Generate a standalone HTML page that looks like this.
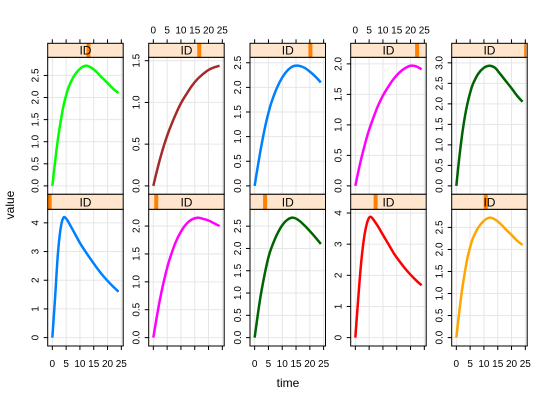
<!DOCTYPE html>
<html><head><meta charset="utf-8"><style>
body{margin:0;background:#fff}
svg{display:block;font-family:"Liberation Sans",sans-serif}
</style></head><body>
<svg id="c" width="540" height="400"></svg>
<script>
const times=[0,1,2,3,4,5,6,8,10,12,14,16,18,20,22,24];
const s1=[0,0.55,1.05,1.45,1.8,2.05,2.25,2.5,2.65,2.72,2.68,2.58,2.45,2.33,2.2,2.1];
const s2=[0,0.14,0.27,0.39,0.5,0.6,0.69,0.85,0.99,1.1,1.2,1.28,1.34,1.39,1.42,1.44];
const s3=[0,0.35,0.68,0.98,1.25,1.48,1.68,1.98,2.2,2.35,2.43,2.44,2.4,2.32,2.22,2.1];
const s4=[0,0.22,0.42,0.6,0.77,0.92,1.05,1.29,1.48,1.63,1.76,1.86,1.93,1.97,1.96,1.91];
const s5=[0,0.65,1.2,1.65,2.0,2.27,2.48,2.74,2.88,2.93,2.88,2.72,2.55,2.38,2.2,2.05];
const s6=[0,1.4,2.9,3.8,4.18,4.15,4.0,3.65,3.3,3.0,2.72,2.45,2.2,1.98,1.78,1.6];
const s7=[0,0.3,0.58,0.83,1.05,1.25,1.42,1.7,1.9,2.04,2.12,2.15,2.13,2.1,2.05,2.0];
const s8=[0,0.45,0.87,1.22,1.53,1.8,2.0,2.3,2.52,2.65,2.69,2.63,2.52,2.39,2.25,2.1];
const s9=[0,1.2,2.3,3.1,3.6,3.85,3.85,3.6,3.3,3.0,2.7,2.45,2.22,2.02,1.84,1.68];
const s10=[0,0.55,1.05,1.45,1.8,2.05,2.25,2.5,2.65,2.72,2.68,2.58,2.45,2.33,2.2,2.1];
const series=[s1,s2,s3,s4,s5,s6,s7,s8,s9,s10];
const stripLevels=[0.54,0.67,0.8,0.88,1.0,0.0,0.1,0.2,0.33,0.45];
const xTicks=[0,5,10,15,20,25];
const yTicksHalf=[0,0.5,1,1.5,2,2.5,3];
const yTicksInt=[0,1,2,3,4];
const colors=["#00ff00","#a52a2a","#0080ff","#ff00ff","#006400","#0080ff","#ff00ff","#006400","#ff0000","#ffa500"];

const NS="http://www.w3.org/2000/svg";
const svg=document.getElementById('c');
function mk(t,a,p){const e=document.createElementNS(NS,t);for(const k in a)e.setAttribute(k,a[k]);(p||svg).appendChild(e);return e;}
function smooth(P){let s=`M${P[0][0].toFixed(2)},${P[0][1].toFixed(2)}`;
  for(let k=0;k<P.length-1;k++){const p0=P[k-1]||P[k],p1=P[k],p2=P[k+1],p3=P[k+2]||P[k+1];
    const c1=[p1[0]+(p2[0]-p0[0])/6,p1[1]+(p2[1]-p0[1])/6],c2=[p2[0]-(p3[0]-p1[0])/6,p2[1]-(p3[1]-p1[1])/6];
    s+=` C${c1[0].toFixed(2)},${c1[1].toFixed(2)} ${c2[0].toFixed(2)},${c2[1].toFixed(2)} ${p2[0].toFixed(2)},${p2[1].toFixed(2)}`;}
  return s;}
const colL=[47.7,148.7,250,350.7,451.7], colW=75.5;
const rows=[{st:43.3,pt:57.3,pb:194.3},{st:194.3,pt:209.3,pb:346}];
const xmin=-1.68,xmax=25.68;
for(let i=0;i<10;i++){
  const r=Math.floor(i/5),c=i%5,L=colL[c],R=L+colW,row=rows[r];
  const d=series[i];const mx=Math.max(...d),mn=Math.min(...d),pad=0.07*(mx-mn);
  const y0=mn-pad,y1=mx+pad;
  const X=t=>L+(t-xmin)/(xmax-xmin)*colW;
  const Y=v=>row.pb-(v-y0)/(y1-y0)*(row.pb-row.pt);
  const g=mk('g',{});
  
  
  xTicks.forEach(t=>{const x=X(t);if(x>L&&x<R){const ln=mk('line',{x1:x,x2:x,y1:row.pt,y2:row.pb,stroke:'#e6e6e6','stroke-width':1},g);}});
  const yt=(i===5||i===8)?yTicksInt:yTicksHalf;
  yt.forEach(v=>{if(v>=y0&&v<=y1){const y=Y(v);
    const ln=mk('line',{x1:L,x2:R,y1:y,y2:y,stroke:'#e6e6e6','stroke-width':1},g);
    const tk=mk('line',{x1:L-4,x2:L,y1:y,y2:y,stroke:'#000','stroke-width':1},g);
    const tx=mk('text',{x:0,y:0,'font-size':10,'text-anchor':'middle',transform:`translate(${L-9},${y}) rotate(-90)`},g);
    tx.textContent=(yt===yTicksInt)?String(v):v.toFixed(1);
    }});
  const P=d.map((v,k)=>[X(times[k]),Y(v)]);
  const pl=mk('path',{d:smooth(P),fill:'none',stroke:colors[i],'stroke-width':2.5,'stroke-linejoin':'round'},g);
  
  const bd=mk('rect',{x:L,y:row.pt,width:colW,height:row.pb-row.pt,fill:'none',stroke:'#000','stroke-width':1},g);
  
  const sr=mk('rect',{x:L,y:row.st,width:colW,height:row.pt-row.st,fill:'#ffe5cc',stroke:'none'},g);
  
  const ix=L+stripLevels[i]*colW;
  const ind=mk('rect',{x:Math.min(Math.max(ix-2,L),R-3),y:row.st,width:Math.min(4,R-Math.max(ix-2,L)),height:row.pt-row.st,fill:'#ff7f00'},g);
  
  const sb=mk('rect',{x:L,y:row.st,width:colW,height:row.pt-row.st,fill:'none',stroke:'#000','stroke-width':1},g);
  
  const st=mk('text',{x:(L+R)/2,y:row.pt-3,'font-size':12,'text-anchor':'middle'},g);
  st.textContent='ID';
  xTicks.forEach(t=>{const x=X(t);
    if(r===0){const tk=mk('line',{x1:x,x2:x,y1:row.st-4,y2:row.st,stroke:'#000'},g);
      if(c===1||c===3){const tx=mk('text',{x:x,y:row.st-10,'font-size':10,'text-anchor':'middle'},g);tx.textContent=t;}}
    else{const tk=mk('line',{x1:x,x2:x,y1:row.pb,y2:row.pb+4,stroke:'#000'},g);
      if(c%2===0){const tx=mk('text',{x:x,y:row.pb+21,'font-size':10,'text-anchor':'middle'},g);tx.textContent=t;}}
  });
}
const xt=mk('text',{x:288,y:387,'font-size':12,'text-anchor':'middle'});xt.textContent='time';

const ytl=mk('text',{x:0,y:0,'font-size':12,'text-anchor':'middle',transform:'translate(14,205) rotate(-90)'});ytl.textContent='value';

</script>
</body></html>
